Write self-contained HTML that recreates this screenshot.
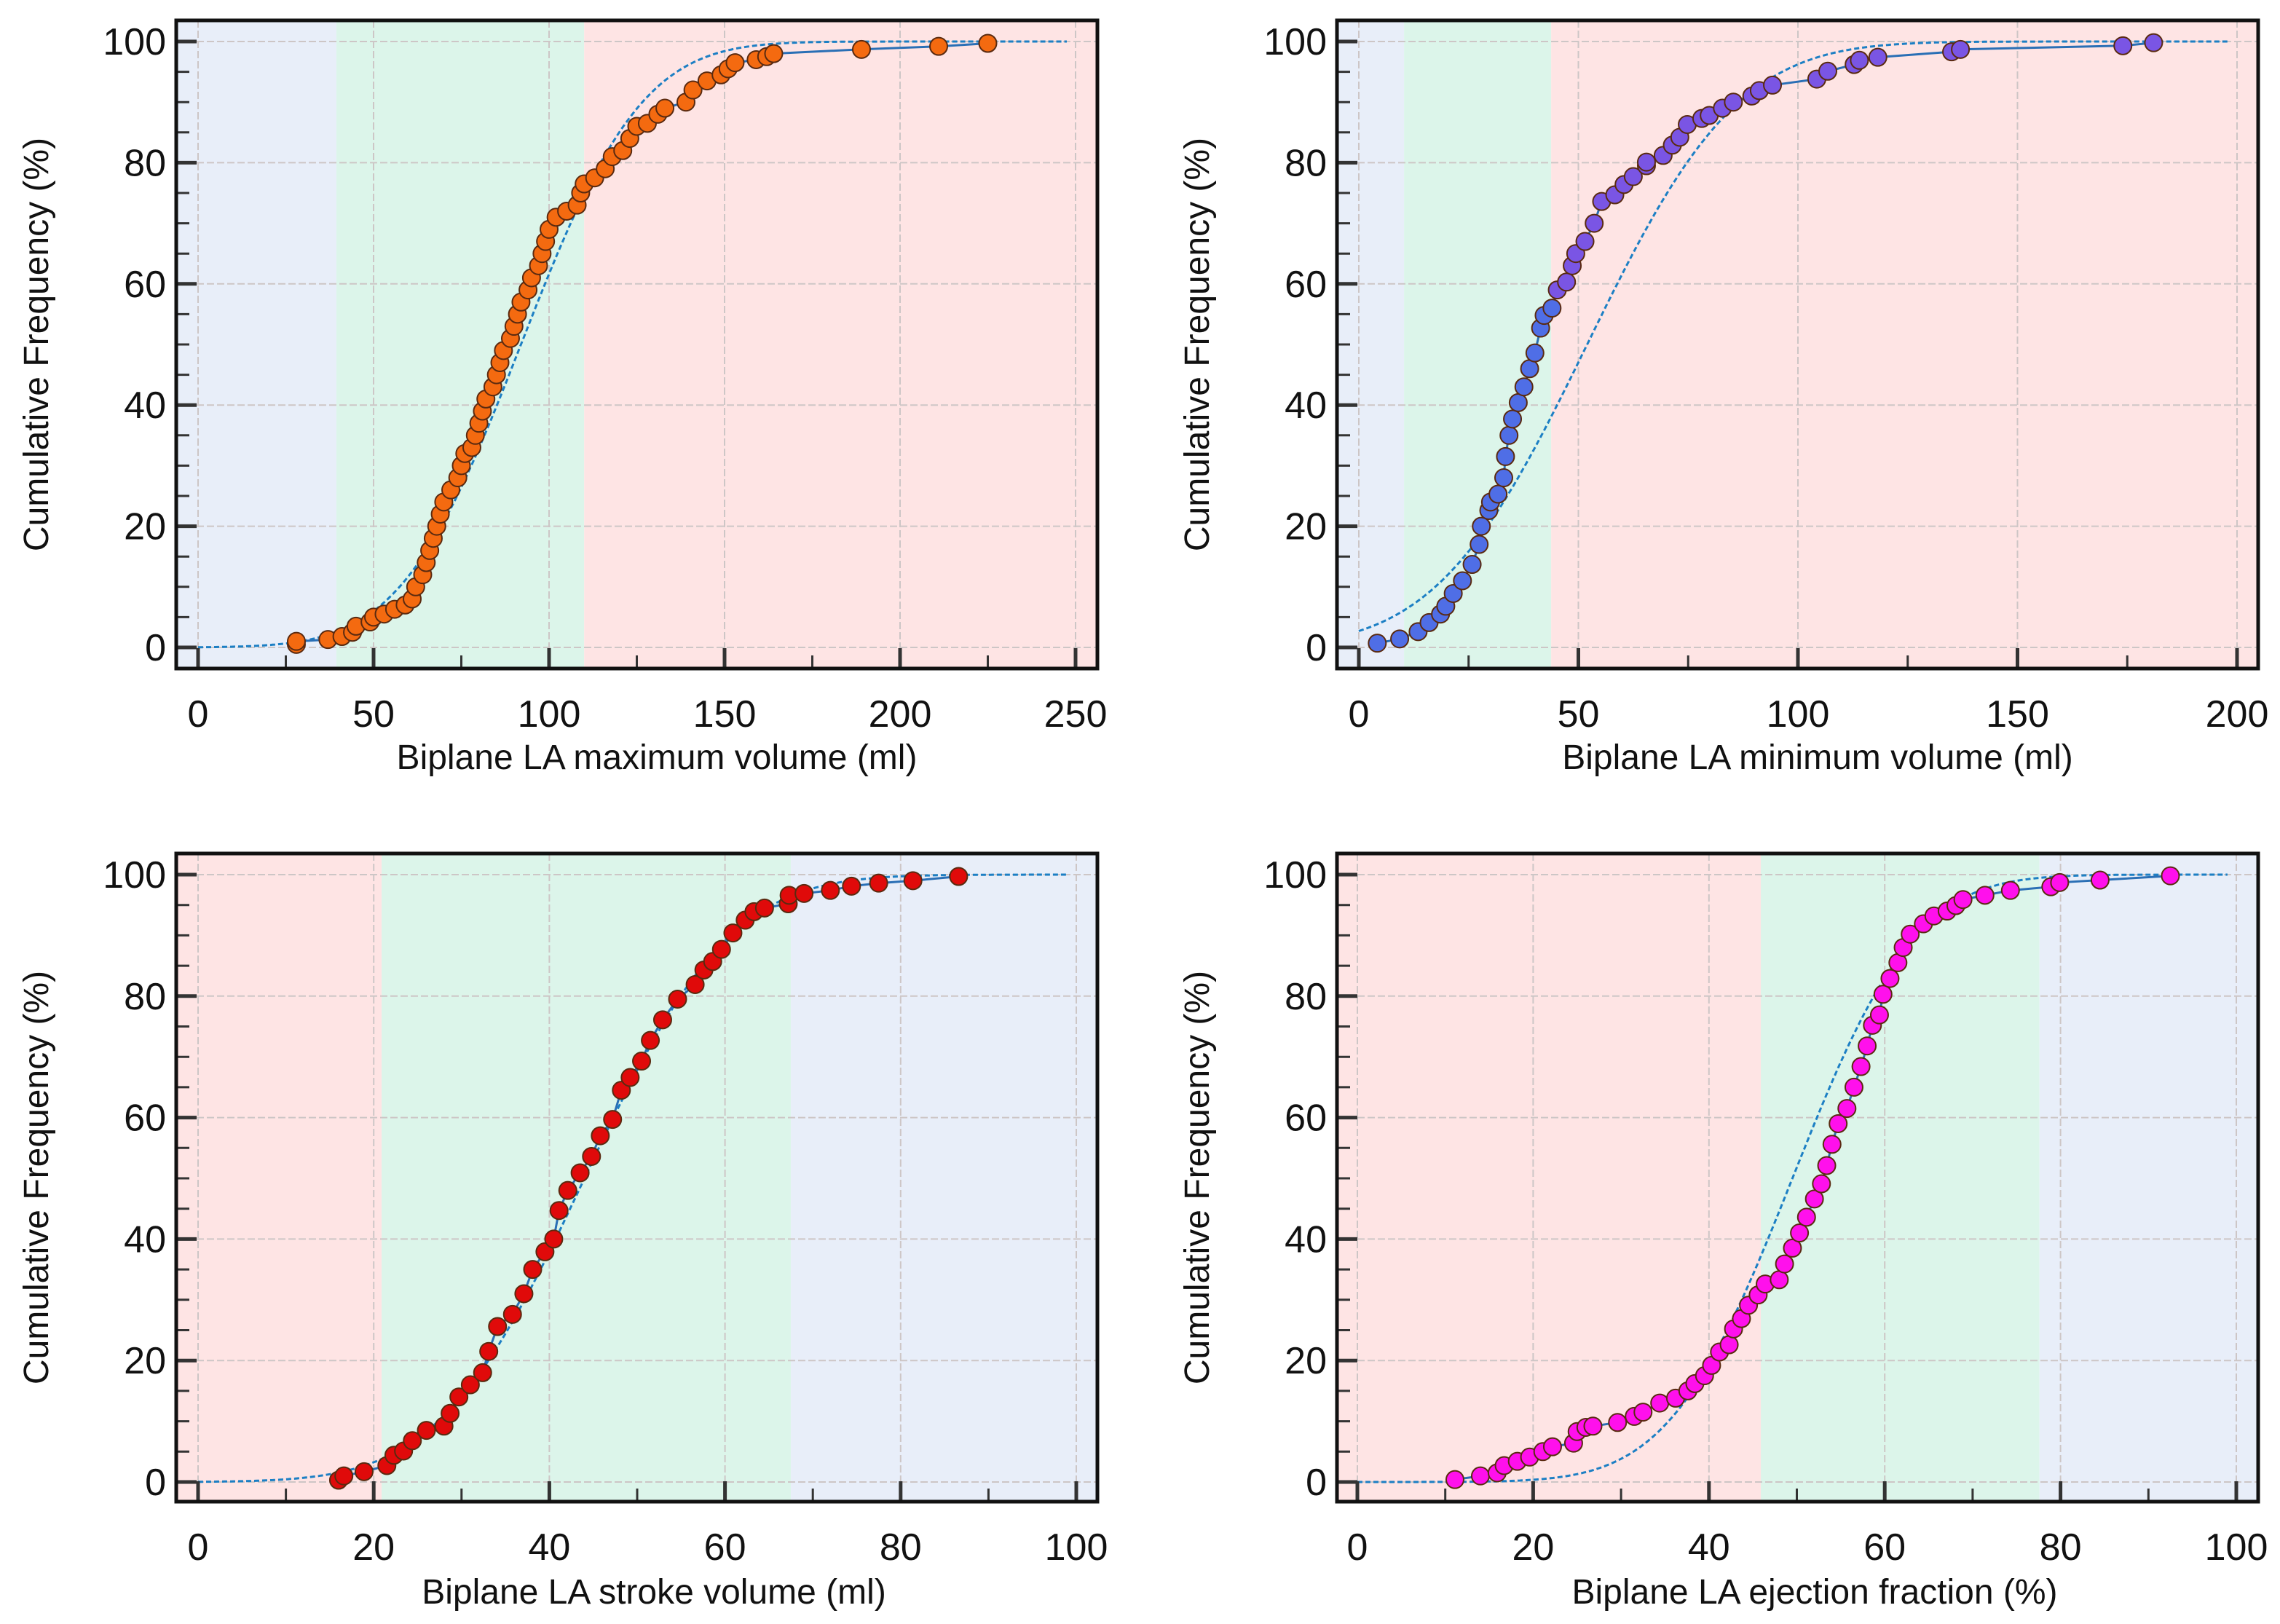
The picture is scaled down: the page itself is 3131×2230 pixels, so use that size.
<!DOCTYPE html>
<html><head><meta charset="utf-8">
<style>
html,body{margin:0;padding:0;background:#fff;}
svg{display:block;font-family:"Liberation Sans",sans-serif;}
</style></head>
<body>
<svg id="fig" width="3131" height="2230" viewBox="0 0 3131 2230" xmlns="http://www.w3.org/2000/svg"></svg>
<script>
// ---- Panel 1: maximum volume ----
const p1X = [28,28,37,41,44,45,49,50,53,56,59,61,62,64,65,66,67,68,69,70,72,74,75,76,78,79,80,81,82,84,85,86,87,89,90,91,92,94,95,97,98,99,100,102,105,108,109,110,113,116,118,121,123,125,128,131,133,139,141,145,149,151,153,159,162,164,189,211,225];
const p1Y = [0.5,1,1.3,1.8,2.5,3.5,4.2,5,5.5,6.3,7,8,10,12,14,16,18,20,22,24,26,28,30,32,33,35,37,39,41,43,45,47,49,51,53,55,57,59,61,63,65,67,69,71,72,73,75,76.5,77.5,79,81,82,84,86,86.5,88,89,90,92,93.5,94.5,95.5,96.5,97,97.5,98,98.7,99.2,99.7];
const p1Fit = [92, 27];
const p1XTicks = [0,50,100,150,200,250];
const p1Bands = [[-15,39.4,'#e8eef9'],[39.4,110,'#dcf5ea'],[110,300,'#fee4e4']];

// ---- Panel 2: minimum volume ----
const p2X = [4.2,9.3,13.5,16,18.6,19.8,21.5,23.6,25.8,27.4,27.9,29.6,30,31.7,33,33.4,34.2,35,36.3,37.6,38.9,40.1,41.4,42.2,44,45.2,47.3,48.6,49.4,51.5,53.6,55.3,58.3,60.4,62.5,65.5,65.5,69.3,71.4,73.1,74.8,78.1,79.8,82.8,85.3,89.5,91.2,94.2,104.3,106.8,112.8,114,118.2,135,137,174,181];
const p2Y = [0.7,1.4,2.6,4.1,5.5,6.8,8.9,11,13.7,17,20,22.6,24,25.3,28,31.5,35,37.7,40.4,43,46,48.6,52.7,54.8,56,59,60.3,63,65,67,70,73.6,74.7,76.4,77.7,79.5,80.1,81.2,82.9,84.2,86.3,87.3,87.8,89,90,91,91.9,92.8,93.8,95.1,96.2,96.9,97.4,98.3,98.7,99.3,99.8];
const p2Fit = [52, 27];
const p2XTicks = [0,50,100,150,200];
const p2Bands = [[-15,10.3,'#e8eef9'],[10.3,43.8,'#dcf5ea'],[43.8,300,'#fee4e4']];

// ---- Panel 3: stroke volume ----
const p3X = [16,16.6,18.9,21.5,22.3,23.4,24.4,26,28,28.7,29.7,31,32.4,33.1,34.1,35.8,37.1,38.1,39.5,40.5,41.1,42.1,43.5,44.8,45.8,47.2,48.2,49.2,50.5,51.5,52.9,54.6,56.6,57.6,58.6,59.6,60.9,62.3,63.3,64.5,67.2,67.3,69,72,74.4,77.5,81.4,86.6];
const p3Y = [0.3,1,1.7,2.7,4.4,5.1,6.8,8.5,9.2,11.3,14,16,18,21.5,25.6,27.6,31,35,37.9,40,44.7,48,50.9,53.6,57,59.7,64.5,66.6,69.3,72.7,76.1,79.5,81.9,84.3,85.7,87.7,90.4,92.5,93.9,94.5,95.2,96.6,96.9,97.4,98.1,98.6,99,99.7];
const p3Fit = [44, 13];
const p3XTicks = [0,20,40,60,80,100];
const p3Bands = [[-10,20.9,'#fee4e4'],[20.9,67.5,'#dcf5ea'],[67.5,120,'#e8eef9']];

// ---- Panel 4: ejection fraction ----
const p4X = [11.1,14,15.9,16.7,18.2,19.6,21.1,22.2,24.6,25,26,26.8,29.6,31.5,32.5,34.4,36.2,37.6,38.4,39.5,40.3,41.2,42.3,42.8,43.7,44.5,45.6,46.4,48,48.6,49.5,50.3,51.1,52,52.8,53.4,54,54.7,55.7,56.5,57.3,58,58.6,59.4,59.8,60.6,61.5,62.1,62.9,64.4,65.6,67.1,68.1,68.9,71.4,74.3,78.9,79.9,84.5,92.5];
const p4Y = [0.4,1,1.5,2.7,3.4,4.1,5,5.8,6.4,8.3,9,9.2,9.8,10.8,11.5,13,13.8,15,16.2,17.5,19.2,21.4,22.6,25.2,26.9,29.1,30.8,32.6,33.3,35.9,38.5,41,43.6,46.6,49.1,52.1,55.6,59,61.5,65,68.4,71.8,75.2,76.9,80.3,82.9,85.5,88,90.2,91.9,93.2,94,94.9,95.9,96.6,97.4,98,98.7,99.1,99.8];
const p4Fit = [49.5, 11];
const p4XTicks = [0,20,40,60,80,100];
const p4Bands = [[-10,45.9,'#fee4e4'],[45.9,77.6,'#dcf5ea'],[77.6,120,'#e8eef9']];

const yTicks = [0,20,40,60,80,100];

const NS = 'http://www.w3.org/2000/svg';
const svg = document.getElementById('fig');
function mk(tag, attrs, parent){
  const e = document.createElementNS(NS, tag);
  for (const k in attrs) e.setAttribute(k, attrs[k]);
  (parent||svg).appendChild(e);
  return e;
}
function erf(x){const s=x<0?-1:1;x=Math.abs(x);const t=1/(1+0.3275911*x);
  const y=1-(((((1.061405429*t-1.453152027)*t)+1.421413741)*t-0.284496736)*t+0.254829592)*t*Math.exp(-x*x);return s*y;}
function ncdf(x,m,s){return 50*(1+erf((x-m)/(s*Math.SQRT2)));}

function panel(cfg){
  const {id,L,R,T,B,x0px,xMax,xMaxPx,y0px,y100px,xs,ys,fit,xTicks,bands,color,color2,xTitle,xTitleX,xTitleY,yTitleX,fitEnd} = cfg;
  const sx = v => x0px + (v/xMax)*(xMaxPx-x0px);
  const sy = v => y0px + (v/100)*(y100px-y0px);
  const g = mk('g',{});
  
  
  const clipId = id+'-clip';
  const cp = mk('clipPath',{id:clipId},g);
  mk('rect',{x:L,y:T,width:R-L,height:B-T},cp);
  const plot = mk('g',{'clip-path':'url(#'+clipId+')'},g);
  bands.forEach((b,i)=>{
    const r = mk('rect',{x:sx(b[0]),y:T,width:sx(b[1])-sx(b[0]),height:B-T,fill:b[2]},plot);
    
    
  });
  yTicks.forEach(t=>{
    mk('line',{x1:L,x2:R,y1:sy(t),y2:sy(t),stroke:'#cdc6c6','stroke-width':2,'stroke-dasharray':'10 4'},plot);
  });
  xTicks.forEach(t=>{
    mk('line',{x1:sx(t),x2:sx(t),y1:T,y2:B,stroke:'#cdc6c6','stroke-width':2,'stroke-dasharray':'10 4'},plot);
  });
  for(let v=0; v<=100; v+=5){
    const maj = v%20===0;
    mk('line',{x1:L,x2:L+(maj?28:18),y1:sy(v),y2:sy(v),stroke:'#333','stroke-width':maj?5:3},g);
  }
  const step = xTicks[1]-xTicks[0];
  for(let v=0; v<=xTicks[xTicks.length-1]+0.001; v+=step/2){
    const maj = Math.abs(v/step-Math.round(v/step))<1e-6;
    mk('line',{x1:sx(v),x2:sx(v),y1:B,y2:B-(maj?28:18),stroke:'#333','stroke-width':maj?5:3},g);
  }
  let d='';
  for(let v=0; v<=fitEnd; v+=xMax/400){ d += (d?'L':'M')+sx(v).toFixed(1)+','+sy(ncdf(v,fit[0],fit[1])).toFixed(1); }
  const fc = mk('path',{d:d,fill:'none',stroke:'#1c7fc4','stroke-width':3,'stroke-dasharray':'7 4'},plot);
  
  
  let d2='';
  xs.forEach((v,i)=>{ d2 += (i?'L':'M')+sx(v).toFixed(1)+','+sy(ys[i]).toFixed(1); });
  const el = mk('path',{d:d2,fill:'none',stroke:'#2a6fb5','stroke-width':3},plot);
  
  
  xs.forEach((v,i)=>{
    const c = mk('circle',{cx:sx(v),cy:sy(ys[i]),r:12,fill:(color2 && ys[i]>56)?color2:color,stroke:'#5a2a10','stroke-width':2},plot);
    
    
  });
  const fr = mk('rect',{x:L,y:T,width:R-L,height:B-T,fill:'none',stroke:'#111','stroke-width':5},g);
  
  
  yTicks.forEach(t=>{
    const tx = mk('text',{x:L-14,y:sy(t)+18,'text-anchor':'end','font-size':52,fill:'#111'},g);
    tx.textContent = t;
    
    
  });
  xTicks.forEach(t=>{
    const tx = mk('text',{x:sx(t),y:B+80,'text-anchor':'middle','font-size':52,fill:'#111'},g);
    tx.textContent = t;
    
    
  });
  const xt = mk('text',{x:xTitleX,y:xTitleY,'text-anchor':'middle','font-size':48,fill:'#111'},g);
  xt.textContent = xTitle;
  
  
  const ym = (T+B)/2;
  const yt = mk('text',{x:yTitleX,y:ym,'text-anchor':'middle','font-size':48,fill:'#111',transform:'rotate(-90 '+yTitleX+' '+ym+')'},g);
  yt.textContent = 'Cumulative Frequency (%)';
  
  
}

panel({id:'panel-max-volume',L:242,R:1507,T:28,B:918,x0px:272,xMax:250,xMaxPx:1477,y0px:889,y100px:57,
  xs:p1X,ys:p1Y,fit:p1Fit,xTicks:p1XTicks,bands:p1Bands,color:'#f46a10',xTitle:'Biplane LA maximum volume (ml)',xTitleX:902,xTitleY:1056,yTitleX:66,fitEnd:248});
panel({id:'panel-min-volume',L:1836,R:3101,T:28,B:918,x0px:1866,xMax:200,xMaxPx:3072,y0px:889,y100px:57,
  xs:p2X,ys:p2Y,fit:p2Fit,xTicks:p2XTicks,bands:p2Bands,color:'#4f6ee6',color2:'#7a55e4',xTitle:'Biplane LA minimum volume (ml)',xTitleX:2496,xTitleY:1056,yTitleX:1660,fitEnd:198});
panel({id:'panel-stroke-volume',L:242,R:1507,T:1172,B:2062,x0px:272,xMax:100,xMaxPx:1478,y0px:2035,y100px:1201,
  xs:p3X,ys:p3Y,fit:p3Fit,xTicks:p3XTicks,bands:p3Bands,color:'#e00a0a',xTitle:'Biplane LA stroke volume (ml)',xTitleX:898,xTitleY:2202,yTitleX:66,fitEnd:99});
panel({id:'panel-ejection-fraction',L:1836,R:3101,T:1172,B:2062,x0px:1864,xMax:100,xMaxPx:3071,y0px:2035,y100px:1201,
  xs:p4X,ys:p4Y,fit:p4Fit,xTicks:p4XTicks,bands:p4Bands,color:'#ff10ec',xTitle:'Biplane LA ejection fraction (%)',xTitleX:2492,xTitleY:2202,yTitleX:1660,fitEnd:99});
</script>
</body></html>
